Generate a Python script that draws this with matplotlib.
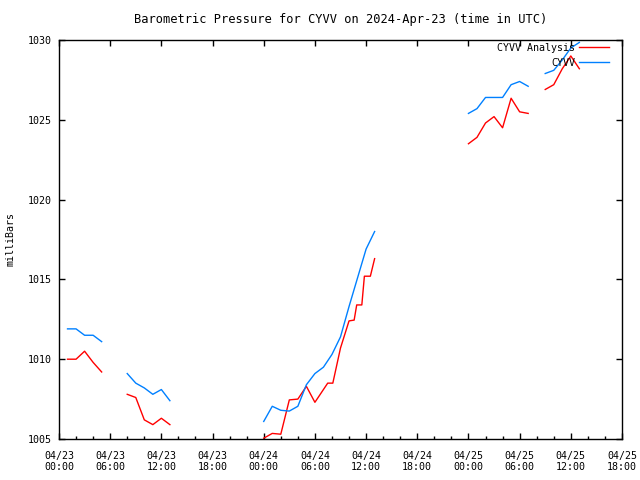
import numpy as np
import matplotlib
matplotlib.use('agg')
import matplotlib.pyplot as plt

nan = np.nan

# hours since 04/23 00:00 UTC, NaN marks a gap in the record
analysis_hours = [1, 2, 3, 4, 5, 6,
                  8, 9, 10, 11, 12, 13, 14,
                  24, 25, 26, 27, 28, 29, 30, 31, 31.5, 32.1, 33, 34, 34.6, 34.9, 35.5, 35.8, 36.5, 37, 38,
                  48, 49, 50, 51, 52, 53, 54, 55, 56,
                  57, 58, 59, 60, 61]
analysis_mb = [1010.0, 1010.0, 1010.5, 1009.8, 1009.2, nan,
               1007.8, 1007.6, 1006.2, 1005.9, 1006.3, 1005.9, nan,
               1005.05, 1005.35, 1005.3, 1007.45, 1007.5, 1008.3, 1007.3, 1008.1, 1008.5, 1008.5,
               1010.7, 1012.4, 1012.45, 1013.4, 1013.4, 1015.2, 1015.2, 1016.3, nan,
               1023.5, 1023.9, 1024.8, 1025.2, 1024.5, 1026.35, 1025.5, 1025.4, nan,
               1026.9, 1027.2, 1028.2, 1029.0, 1028.2]

obs_hours = [1, 2, 3, 4, 5, 6,
             8, 9, 10, 11, 12, 13, 14,
             24, 25, 26, 27, 28, 29, 30, 31, 32, 33, 34, 35, 36, 37, 38,
             48, 49, 50, 51, 52, 53, 54, 55, 56,
             57, 58, 59, 60, 61]
obs_mb = [1011.9, 1011.9, 1011.5, 1011.5, 1011.1, nan,
          1009.1, 1008.5, 1008.2, 1007.8, 1008.1, 1007.4, nan,
          1006.1, 1007.05, 1006.8, 1006.75, 1007.05, 1008.4, 1009.1, 1009.5, 1010.3, 1011.4,
          1013.3, 1015.1, 1016.9, 1018.0, nan,
          1025.4, 1025.7, 1026.4, 1026.4, 1026.4, 1027.2, 1027.4, 1027.1, nan,
          1027.9, 1028.1, 1028.75, 1029.5, 1029.85]

tick_hours = list(range(0, 67, 6))
tick_labels = ['04/23\n00:00', '04/23\n06:00', '04/23\n12:00', '04/23\n18:00',
               '04/24\n00:00', '04/24\n06:00', '04/24\n12:00', '04/24\n18:00',
               '04/25\n00:00', '04/25\n06:00', '04/25\n12:00', '04/25\n18:00']

plt.rcParams['font.family'] = ['DejaVu Sans Mono']
plt.rcParams['font.size'] = 7.2

fig = plt.figure(figsize=(6.4, 4.8), dpi=100)
ax = fig.add_axes([59 / 640, 1 - 439 / 480, 563 / 640, 399 / 480])

ax.plot(analysis_hours, analysis_mb, color='#ff0000', lw=1, label='CYVV Analysis')
ax.plot(obs_hours, obs_mb, color='#0080ff', lw=1, label='CYVV')

ax.set_xlim(0, 66)
ax.set_ylim(1005, 1030)
ax.set_xticks(tick_hours)
ax.set_xticklabels(tick_labels)
ax.set_xticks(range(0, 67, 2), minor=True)
ax.set_yticks(range(1005, 1031, 5))

ax.tick_params(which='major', direction='in', length=4, width=1, top=True, right=True, pad=5)
ax.tick_params(axis='x', which='major', pad=8.5)
ax.tick_params(which='minor', direction='in', length=2, width=1, top=False)
ax.tick_params(axis='y', which='minor', left=False, right=False)
for s in ax.spines.values():
    s.set_linewidth(1)

ax.set_title('Barometric Pressure for CYVV on 2024-Apr-23 (time in UTC)', pad=12)
ax.set_ylabel('milliBars', labelpad=9)

ax.legend(loc='upper right', bbox_to_anchor=(1 - 10 / 563, 1.0), frameon=False,
          markerfirst=False, handlelength=3.0, handletextpad=0.4, labelspacing=0.5,
          borderaxespad=0.0, borderpad=0.3, fontsize=7.2)

plt.savefig('out.png', dpi=100)
